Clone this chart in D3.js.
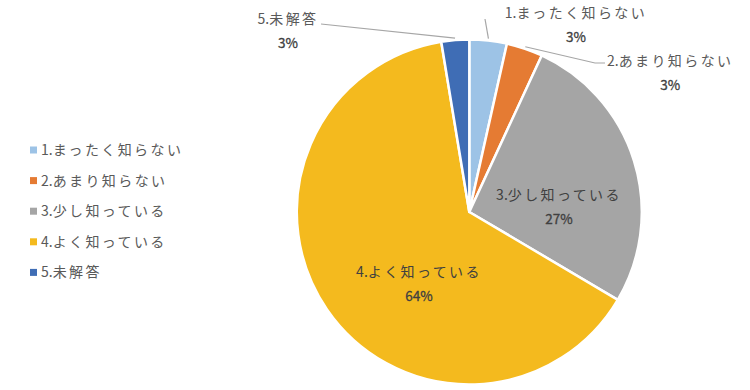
<!DOCTYPE html>
<html>
<head>
<meta charset="utf-8">
<script src="https://cdn.jsdelivr.net/npm/d3@7"></script>
<style>
  body { margin: 0; background: #fff; }
  text { font-family: "Noto Sans CJK JP", "Noto Sans", sans-serif; }
</style>
</head>
<body>
<div id="chart"></div>
<script>
// data
const categories = ["1.まったく知らない", "2.あまり知らない", "3.少し知っている", "4.よく知っている", "5.未解答"];
const values = [3.5, 3.4, 26.6, 63.9, 2.6];
const pctLabels = ["3%", "3%", "27%", "64%", "3%"];
const colors = ["#9dc3e6", "#e57b33", "#a5a5a5", "#f4ba1e", "#3f6db5"];

const width = 750, height = 390;
const cx = 469.3, cy = 212, radius = 172.5;

const svg = d3.select("#chart").append("svg")
    .attr("width", width)
    .attr("height", height);

const pie = d3.pie().sort(null).value(d => d);
const arcs = pie(values);

const arc = d3.arc().innerRadius(0).outerRadius(radius);
const edgeArc = d3.arc().innerRadius(radius + 2).outerRadius(radius + 2);

const g = svg.append("g").attr("transform", `translate(${cx},${cy})`);

// slices
g.selectAll("path.slice")
    .data(arcs)
    .enter().append("path")
    .attr("class", "slice")
    .attr("d", arc)
    .attr("fill", (d, i) => colors[i])
    .attr("stroke", "#fff")
    .attr("stroke-width", 2.5)
    .attr("stroke-linejoin", "round");

// write "1." tight, then the japanese part with wider spacing (like Meiryo)
function fillName(sel, name) {
    sel.append("tspan").attr("letter-spacing", 0).text(name.slice(0, 2));
    sel.append("tspan").attr("letter-spacing", 2.4).text(name.slice(2));
}

// label layout (page coords): name position, anchor, leader line end points
const labelLayout = [
    { x: 576, y: 18, anchor: "middle", line: [[485, 19]] },
    { x: 607, y: 66, anchor: "start", line: [[595, 63], [605, 63]] },
    { x: 559, y: 200, anchor: "middle", line: null },
    { x: 419, y: 277, anchor: "middle", line: null },
    { x: 288, y: 24, anchor: "middle", line: [[321, 24]] }
];

arcs.forEach((d, i) => {
    const L = labelLayout[i];
    if (L.line) {
        const p = edgeArc.centroid(d);
        const pts = [[p[0] + cx, p[1] + cy]].concat(L.line);
        svg.append("path")
            .attr("d", d3.line()(pts))
            .attr("fill", "none")
            .attr("stroke", "#a6a6a6")
            .attr("stroke-width", 1.2);
    }
    const inside = L.line === null;
    const col = inside ? "#404040" : "#595959";
    const t = svg.append("text")
        .attr("x", L.x)
        .attr("y", L.y)
        .attr("text-anchor", L.anchor)
        .attr("font-size", 14)
        .attr("fill", col);
    fillName(t, categories[i]);
    let px = L.x;
    if (L.anchor === "start") {
        px = L.x + t.node().getComputedTextLength() / 2;
    }
    svg.append("text")
        .attr("x", px)
        .attr("y", L.y + 24)
        .attr("text-anchor", "middle")
        .attr("font-size", 13.5)
        .attr("fill", "#404040")
        .attr("stroke", "#404040")
        .attr("stroke-width", 0.3)
        .text(pctLabels[i]);
});

// legend
const legend = svg.append("g").attr("transform", "translate(30,150)");
const rowH = 30.6;
const item = legend.selectAll("g.item")
    .data(categories)
    .enter().append("g")
    .attr("class", "item")
    .attr("transform", (d, i) => `translate(0,${i * rowH})`);

item.append("rect")
    .attr("x", 0).attr("y", -3.5)
    .attr("width", 7).attr("height", 7)
    .attr("fill", (d, i) => colors[i]);

item.append("text")
    .attr("x", 11)
    .attr("y", 5)
    .attr("font-size", 14)
    .attr("fill", "#595959")
    .each(function (d) { fillName(d3.select(this), d); });
</script>
</body>
</html>
